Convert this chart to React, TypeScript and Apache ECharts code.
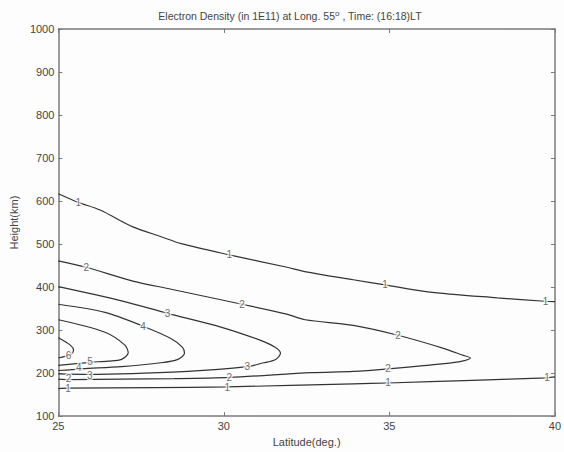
import React, { useEffect, useRef } from "react";
import * as echarts from "echarts";

// Contour paths [latitude, height]
const contour1Upper: number[][] = [
  [25, 617], [25.6, 597], [26.26, 579], [27.25, 540], [28.11, 517], [28.71, 501],
  [30.16, 475], [31.91, 446], [32.44, 436], [33.91, 417], [34.87, 405],
  [36.16, 389], [38.26, 375], [39.7, 367], [40, 366],
];
const contour1Lower: number[][] = [
  [25, 164], [25.29, 165], [27.91, 166], [30.1, 168], [33.91, 175], [34.96, 177],
  [37.5, 183], [39.76, 189], [40, 191],
];
const contour2: number[][] = [
  [25, 461], [25.84, 446], [27.25, 414], [28.41, 395], [30.55, 360], [31.9, 337],
  [32.46, 324], [33.91, 311], [35.26, 288], [36.66, 257], [37.2, 242], [37.45, 235],
  [37.2, 228], [36.66, 222], [34.96, 210], [33.91, 204], [32.65, 201], [30.16, 190],
  [28.5, 187], [26.91, 186], [25.31, 185], [25, 186],
];
const contour3: number[][] = [
  [25, 401], [26.91, 368], [28.3, 339], [29.91, 307], [31.11, 276], [31.55, 260],
  [31.71, 246], [31.55, 231], [31.2, 224], [30.71, 215], [28.91, 204], [25.91, 197], [25, 198],
];
const contour4: number[][] = [
  [25, 360], [26.41, 341], [27.56, 309], [28.41, 280], [28.75, 260], [28.81, 246],
  [28.61, 232], [28.1, 224], [26.91, 215], [25.71, 210], [25, 206],
];
const contour5: number[][] = [
  [25, 324], [26.41, 295], [27.01, 265], [27.11, 247], [26.91, 232], [26.5, 228],
  [25.96, 225], [25, 218],
];
const contour6: number[][] = [
  [25, 282], [25.36, 265], [25.46, 253], [25.36, 242], [25.2, 239], [25, 235],
];
// Contour labels [latitude, height, level]
const contourLabels: number[][] = [
  [25.6, 597, 1], [30.16, 475, 1], [34.87, 405, 1], [39.72, 367, 1],
  [25.84, 446, 2], [30.55, 360, 2], [35.26, 288, 2], [34.96, 210, 2], [30.16, 190, 2], [25.31, 188, 2],
  [28.3, 339, 3], [30.71, 215, 3], [25.95, 195, 3],
  [27.56, 309, 4], [25.62, 213, 4],
  [25.96, 226, 5],
  [25.31, 240, 6],
  [25.29, 164, 1], [30.1, 167, 1], [34.96, 177, 1], [39.76, 189, 1],
];
const xTicks = [25, 30, 35, 40];
const yTicks = [100, 200, 300, 400, 500, 600, 700, 800, 900, 1000];

const titleText = "Electron Density (in 1E11) at Long. 55{sup|o} , Time: (16:18)LT";
const xName = "Latitude(deg.)";
const yName = "Height(km)";

export default function App() {
  const ref = useRef<HTMLDivElement>(null);
  useEffect(() => {
    if (!ref.current) return;
    const chart = echarts.init(ref.current, undefined, { renderer: "svg" });
    const font = "Liberation Sans, Arial, sans-serif";
    const axisColor = "#7a7a7a";
    const textColor = "#444";
    const bg = "#fdfdfd";
    const lineStyle = { color: "#333333", width: 1.2 };
    const contours = [contour1Upper, contour1Lower, contour2, contour3, contour4, contour5, contour6];
    const baseX = {
      type: "value" as const,
      min: xTicks[0],
      max: xTicks[xTicks.length - 1],
      interval: 5,
      axisLine: { show: true, lineStyle: { color: axisColor, width: 1.5 } },
      axisTick: { show: true, inside: true, length: 4, lineStyle: { color: axisColor } },
      splitLine: { show: false },
    };
    const baseY = {
      type: "value" as const,
      min: yTicks[0],
      max: yTicks[yTicks.length - 1],
      interval: 100,
      axisLine: { show: true, lineStyle: { color: axisColor, width: 1.5 } },
      axisTick: { show: true, inside: true, length: 4, lineStyle: { color: axisColor } },
      splitLine: { show: false },
    };
    chart.setOption({
      animation: false,
      backgroundColor: bg,
      title: {
        text: titleText,
        left: 285,
        top: 4,
        textAlign: "center",
        textStyle: {
          fontFamily: font,
          fontSize: 10.5,
          fontWeight: "normal",
          color: textColor,
          lineHeight: 14,
          rich: {
            sup: { fontSize: 8, verticalAlign: "top", lineHeight: 14, color: textColor, fontFamily: font, padding: [0, 0, 6, 0] },
          },
        },
      },
      grid: { left: 58, right: 6, top: 29, bottom: 31, containLabel: false },
      xAxis: [
        {
          ...baseX,
          position: "bottom",
          name: xName,
          nameLocation: "middle",
          nameGap: 16,
          nameTextStyle: { fontFamily: font, fontSize: 11, color: textColor },
          axisLabel: { fontFamily: font, fontSize: 11, color: textColor, margin: 4 },
        },
        { ...baseX, position: "top", axisLabel: { show: false } },
      ],
      yAxis: [
        {
          ...baseY,
          position: "left",
          name: yName,
          nameLocation: "middle",
          nameGap: 31,
          nameTextStyle: { fontFamily: font, fontSize: 11, color: textColor },
          axisLabel: { fontFamily: font, fontSize: 11, color: textColor, margin: 4, formatter: (v: number) => String(v) },
        },
        { ...baseY, position: "right", axisLabel: { show: false } },
      ],
      series: [
        ...contours.map((c) => ({
          type: "line",
          data: c,
          symbol: "none",
          smooth: 0.3,
          lineStyle,
          silent: true,
          z: 2,
        })),
        {
          type: "scatter",
          data: contourLabels,
          symbolSize: 1,
          itemStyle: { color: "rgba(0,0,0,0)" },
          silent: true,
          z: 5,
          label: {
            show: true,
            position: "inside",
            formatter: (p: any) => String(p.value[2]),
            fontFamily: font,
            fontSize: 10,
            lineHeight: 9,
            color: "#444444",
            textBorderColor: bg,
            textBorderWidth: 3,
          },
        },
      ],
    });
    return () => chart.dispose();
  }, []);
  return (
    <div
      ref={ref}
      style={{ position: "absolute", left: 0, top: 0, width: 564, height: 452 }}
    />
  );
}
